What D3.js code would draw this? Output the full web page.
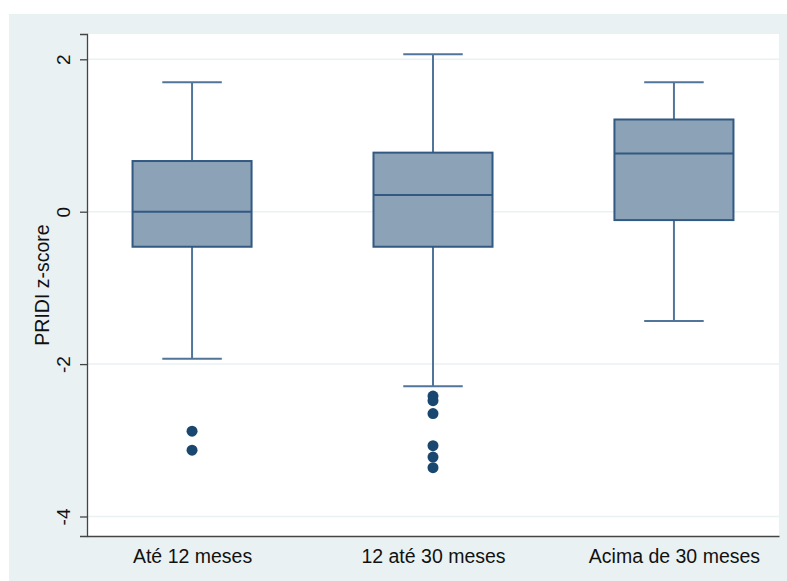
<!DOCTYPE html>
<html>
<head>
<meta charset="utf-8">
<script src="https://cdn.jsdelivr.net/npm/d3@7"></script>
<style>
  body { margin: 0; background: #ffffff; }
  text { font-family: "Liberation Sans", Arial, sans-serif; fill: #111; }
</style>
</head>
<body>
<div id="chart"></div>
<script>
var width = 787;
var height = 581;

// groups and box statistics
var groups = ["Até 12 meses", "12 até 30 meses", "Acima de 30 meses"];
var lowWhisker = [-1.93, -2.29, -1.435];
var q1 = [-0.46, -0.46, -0.11];
var medians = [0.0, 0.22, 0.765];
var q3 = [0.665, 0.775, 1.21];
var highWhisker = [1.70, 2.065, 1.70];
var outliers = [
  [-2.88, -3.13],
  [-2.42, -2.48, -2.65, -3.07, -3.22, -3.36],
  []
];
var yTicks = [-4, -2, 0, 2];

var plot = { left: 87, right: 779, top: 34, bottom: 536 };

var svg = d3.select("#chart")
  .append("svg")
  .attr("width", width)
  .attr("height", height);

// outer background
svg.append("rect")
  .attr("x", 9).attr("y", 14)
  .attr("width", width - 9).attr("height", height - 14)
  .attr("fill", "#eaf1f3");

svg.append("rect")
  .attr("x", plot.left).attr("y", plot.top)
  .attr("width", plot.right - plot.left).attr("height", plot.bottom - plot.top)
  .attr("fill", "#ffffff");

var xScale = d3.scalePoint().domain(groups).range([plot.left, plot.right]).padding(0.436);
var yScale = d3.scaleLinear().domain([-4.256, 2.332]).range([plot.bottom, plot.top]);
var step = xScale.step();
var boxW = step * 0.494;

// gridlines
svg.append("g")
  .selectAll("line")
  .data(yTicks)
  .enter()
  .append("line")
  .attr("x1", plot.left).attr("x2", plot.right)
  .attr("y1", function(d) { return yScale(d); })
  .attr("y2", function(d) { return yScale(d); })
  .attr("stroke", "#eaf1f3")
  .attr("stroke-width", 1.5);

var data = groups.map(function(g, i) {
  return { name: g, lo: lowWhisker[i], q1: q1[i], med: medians[i], q3: q3[i], hi: highWhisker[i], out: outliers[i] };
});

var boxes = svg.append("g").selectAll("g")
  .data(data)
  .enter()
  .append("g")
  .attr("transform", function(d) { return "translate(" + xScale(d.name) + ",0)"; });

// whiskers
var whiskerColor = "#51759a";
boxes.append("line")
  .attr("x1", 0).attr("x2", 0)
  .attr("y1", function(d) { return yScale(d.hi); })
  .attr("y2", function(d) { return yScale(d.q3); })
  .attr("stroke", whiskerColor).attr("stroke-width", 2);
boxes.append("line")
  .attr("x1", 0).attr("x2", 0)
  .attr("y1", function(d) { return yScale(d.q1); })
  .attr("y2", function(d) { return yScale(d.lo); })
  .attr("stroke", whiskerColor).attr("stroke-width", 2);
boxes.append("line")
  .attr("x1", -boxW / 4).attr("x2", boxW / 4)
  .attr("y1", function(d) { return yScale(d.hi); })
  .attr("y2", function(d) { return yScale(d.hi); })
  .attr("stroke", whiskerColor).attr("stroke-width", 2);
boxes.append("line")
  .attr("x1", -boxW / 4).attr("x2", boxW / 4)
  .attr("y1", function(d) { return yScale(d.lo); })
  .attr("y2", function(d) { return yScale(d.lo); })
  .attr("stroke", whiskerColor).attr("stroke-width", 2);

// box
boxes.append("rect")
  .attr("x", -boxW / 2)
  .attr("width", boxW)
  .attr("y", function(d) { return yScale(d.q3); })
  .attr("height", function(d) { return yScale(d.q1) - yScale(d.q3); })
  .attr("fill", "#8ca2b7")
  .attr("stroke", "#315982")
  .attr("stroke-width", 2);
boxes.append("line")
  .attr("x1", -boxW / 2).attr("x2", boxW / 2)
  .attr("y1", function(d) { return yScale(d.med); })
  .attr("y2", function(d) { return yScale(d.med); })
  .attr("stroke", "#315982").attr("stroke-width", 2);

// outliers
boxes.selectAll("circle")
  .data(function(d) { return d.out; })
  .enter()
  .append("circle")
  .attr("cx", 0)
  .attr("cy", function(d) { return yScale(d); })
  .attr("r", 5.5)
  .attr("fill", "#1a476f");

// axes
var yAxis = d3.axisLeft(yScale).tickValues(yTicks).tickSize(7)
  .tickFormat(function(d) { return String(d); });
var gy = svg.append("g")
  .attr("transform", "translate(" + plot.left + ",0)")
  .call(yAxis);
gy.select(".domain").attr("stroke", "#444").attr("stroke-width", 1.3);
gy.selectAll(".tick line").attr("stroke", "#444").attr("stroke-width", 1.3);
gy.selectAll(".tick text")
  .attr("x", 0).attr("dy", 0)
  .attr("transform", "translate(-17,0) rotate(-90)")
  .attr("text-anchor", "middle")
  .style("font-size", "19px")
  .style("fill", "#111");

var xAxis = d3.axisBottom(xScale).tickSize(0);
var gx = svg.append("g")
  .attr("transform", "translate(0," + plot.bottom + ")")
  .call(xAxis);
gx.select(".domain").attr("stroke", "#444").attr("stroke-width", 1.3);
gx.selectAll(".tick text")
  .attr("y", 13.5)
  .attr("dy", "0.71em")
  .style("font-size", "19.5px")
  .style("fill", "#111");

svg.append("text")
  .attr("transform", "translate(49," + 285 + ") rotate(-90)")
  .attr("text-anchor", "middle")
  .style("font-size", "19.5px")
  .text("PRIDI z-score");
</script>
</body>
</html>
